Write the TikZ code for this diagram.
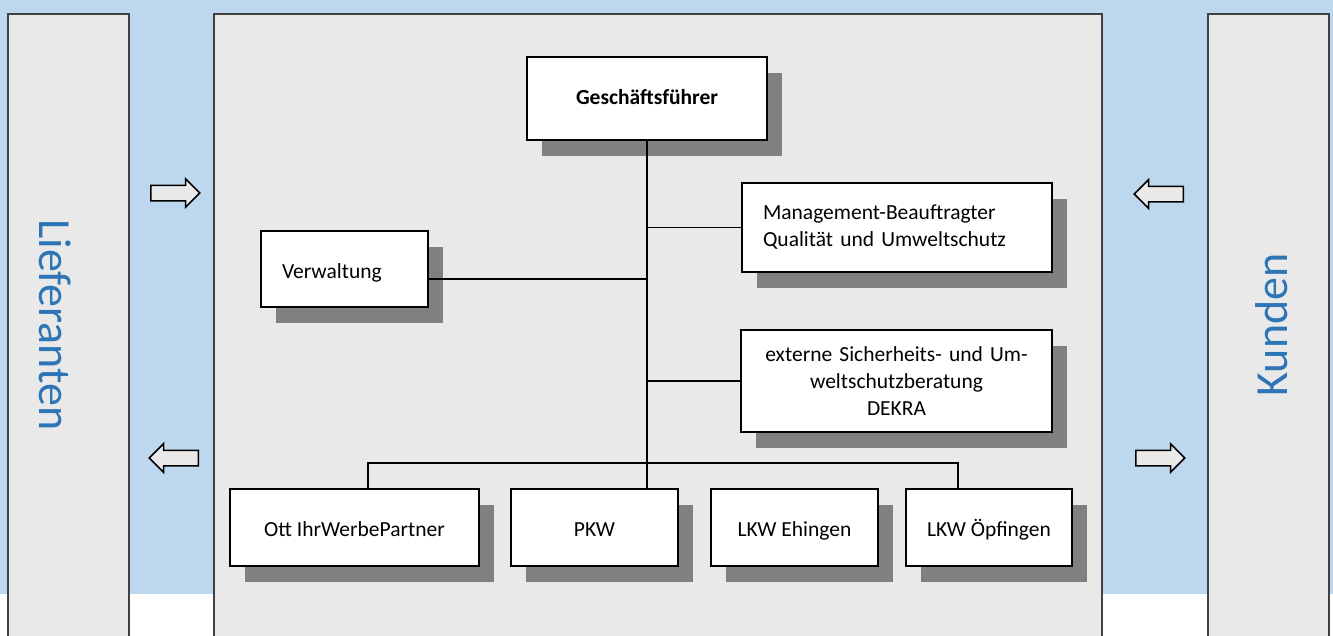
\documentclass[tikz,border=0pt]{standalone}
\usepackage{fontspec}
\setmainfont{Carlito}
\usepackage{tikz}
\usetikzlibrary{shadows,shapes.arrows}
\definecolor{bgblue}{RGB}{189,215,238}
\definecolor{panelgray}{RGB}{233,233,233}
\definecolor{shadowgray}{RGB}{128,128,128}
\definecolor{labelblue}{RGB}{46,117,182}

\begin{document}
\begin{tikzpicture}[x=1pt, y=-1pt,
    box/.style={rectangle, draw, line width=2pt, fill=white, inner sep=0pt, font=\fontsize{21.5}{27}\selectfont, drop shadow={shadow xshift=15pt, shadow yshift=-16pt, fill=shadowgray, opacity=1}},
    oneline/.style={text height=20pt, text depth=2pt},
    panel/.style={rectangle, draw=black!75, line width=1.5pt, fill=panelgray, inner sep=0pt, anchor=north west},
    flow/.style={single arrow, draw, line width=1.5pt, fill=panelgray, inner xsep=0pt, inner ysep=7pt, minimum height=49pt, single arrow head extend=6.5pt, single arrow head indent=0pt, anchor=tail},
    side/.style={font=\fontsize{46}{46}\selectfont, text=labelblue},
    link/.style={line width=1.5pt}]
    \clip (0,0) rectangle (1333,635);
    \fill[bgblue] (0,0) rectangle (1333,594);

    \node[panel, minimum width=121pt, minimum height=640pt] (supp) at (7,13) {};
    \node[panel, minimum width=888pt, minimum height=640pt] (core) at (213,13) {};
    \node[panel, minimum width=121pt, minimum height=640pt] (cust) at (1207,13) {};
    \node[side, rotate=-90] (supptext) at (55,325) {Lieferanten};
    \node[side, rotate=90] (custtext) at (1272,325) {Kunden};

    \node[flow] (in1) at (150,193) {};
    \node[flow, shape border rotate=180] (out1) at (199,458) {};
    \node[flow, shape border rotate=180] (in2) at (1184,194) {};
    \node[flow] (out2) at (1135,458) {};

    \node[box, text height=15pt, text depth=4pt, minimum width=240pt, minimum height=83pt, font=\fontsize{21.5}{27}\selectfont\bfseries] (gf) at (647,98.5) {Geschäftsführer};
    \node[box, text width=268pt, inner xsep=21pt, minimum height=89pt, align=left] (mb) at (897,227.5) {Management-Beauftragter\\Qualität und Umweltschutz};
    \node[box, oneline, text width=125pt, inner xsep=21pt, minimum height=76pt, align=left] (verw) at (344.5,269) {Verwaltung};
    \node[box, text width=295pt, inner xsep=8pt, minimum height=102pt, align=center] (ext) at (896.5,381) {externe Sicherheits- und Um-\\weltschutzberatung\\DEKRA};
    \node[box, oneline, minimum width=249pt, minimum height=77pt] (ott) at (354.5,527.5) {Ott IhrWerbePartner};
    \node[box, oneline, minimum width=167pt, minimum height=77pt] (pkw) at (594.5,527.5) {PKW};
    \node[box, oneline, minimum width=167pt, minimum height=77pt] (ehi) at (794.5,527.5) {LKW Ehingen};
    \node[box, oneline, minimum width=166pt, minimum height=77pt] (oepf) at (989,527.5) {LKW Öpfingen};

    \coordinate (jv) at (648,279);
    \coordinate (bl) at (368,463);
    \coordinate (br) at (958,463);

    \draw[link] (gf.south) -- (gf.south |- pkw.north);
    \draw[link] (verw.east |- jv) -- (gf.south |- jv);
    \draw[link] (mb.west) -- (gf.south |- mb.west);
    \draw[link] (ext.west) -- (gf.south |- ext.west);
    \draw[link] (ott.north -| bl) -- (bl) -- (br) -- (oepf.north -| br);
\end{tikzpicture}
\end{document}
